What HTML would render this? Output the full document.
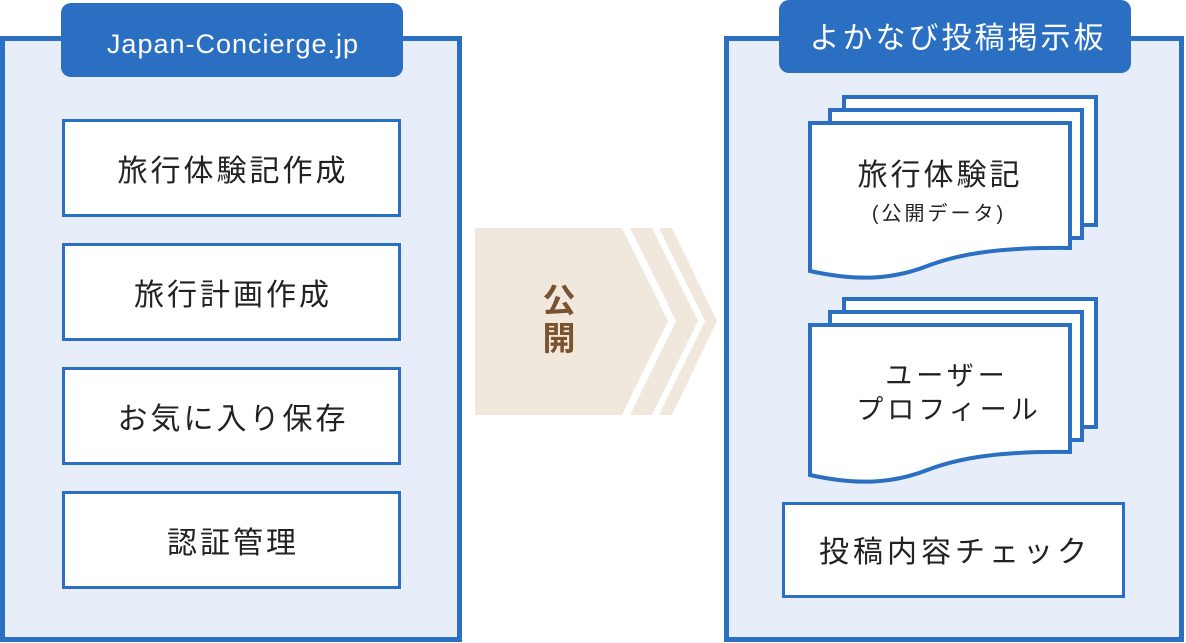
<!DOCTYPE html>
<html><head><meta charset="utf-8"><style>
html,body{margin:0;padding:0;background:#fff;}
svg{display:block;}
text{font-family:"Liberation Sans","Noto Sans CJK JP",sans-serif;}
</style></head><body>
<svg width="1186" height="643" viewBox="0 0 1186 643" xmlns="http://www.w3.org/2000/svg">
<rect x="2.5" y="38.5" width="457" height="601" fill="#e8eef9" stroke="#2a6fc2" stroke-width="5"/>
<rect x="61" y="3" width="342" height="74" rx="10" fill="#2a6fc2"/>
<text x="233" y="53" font-size="27" fill="#fff" text-anchor="middle" letter-spacing="1">Japan-Concierge.jp</text>
<g fill="#fff" stroke="#2a6fc2" stroke-width="3">
<rect x="63.5" y="120.5" width="336" height="95"/>
<rect x="63.5" y="244.5" width="336" height="95"/>
<rect x="63.5" y="368.5" width="336" height="95"/>
<rect x="63.5" y="492.5" width="336" height="95"/>
</g>
<g font-size="30" fill="#222" text-anchor="middle" letter-spacing="3">
<text x="233" y="181">旅行体験記作成</text>
<text x="233" y="305">旅行計画作成</text>
<text x="233" y="429">お気に入り保存</text>
<text x="233" y="553">認証管理</text>
</g>
<g fill="#f0e8dd">
<polygon points="475,228 622,228 668,321 622,415 475,415"/>
<polygon points="630,228 652,228 698,321 652,415 630,415 676,321"/>
<polygon points="659,228 672,228 717,321 672,415 659,415 705,321"/>
</g>
<g font-size="33" fill="#7a5230" text-anchor="middle" font-weight="bold">
<text x="559" y="312">公</text>
<text x="559" y="350">開</text>
</g>
<rect x="726.5" y="38.5" width="455" height="601" fill="#e8eef9" stroke="#2a6fc2" stroke-width="5"/>
<rect x="779" y="0" width="352" height="73" rx="10" fill="#2a6fc2"/>
<text x="958" y="48" font-size="30" fill="#fff" text-anchor="middle" letter-spacing="3">よかなび投稿掲示板</text>
<g fill="#fff" stroke="#2a6fc2" stroke-width="4">
<rect x="844" y="97" width="252" height="128"/>
<rect x="830" y="110" width="252" height="128"/>
<path d="M810,123 H1070 V248 C1000,247 960,254 930,265 C895,279 860,282 810,271 Z"/>
<rect x="844" y="299" width="252" height="128"/>
<rect x="830" y="312" width="252" height="128"/>
<path d="M810,325 H1070 V452 C1000,451 960,458 930,469 C895,483 860,486 810,475 Z"/>
</g>
<g fill="#222" text-anchor="middle">
<text x="940" y="185" font-size="30" letter-spacing="3">旅行体験記</text>
<text x="939" y="220" font-size="20" letter-spacing="3">(公開データ)</text>
<text x="947" y="385" font-size="27" letter-spacing="4">ユーザー</text>
<text x="949" y="419" font-size="27" letter-spacing="4">プロフィール</text>
</g>
<rect x="783.5" y="503.5" width="340" height="93" fill="#fff" stroke="#2a6fc2" stroke-width="3"/>
<text x="955" y="562" font-size="30" fill="#222" text-anchor="middle" letter-spacing="4">投稿内容チェック</text>
</svg>
</body></html>
